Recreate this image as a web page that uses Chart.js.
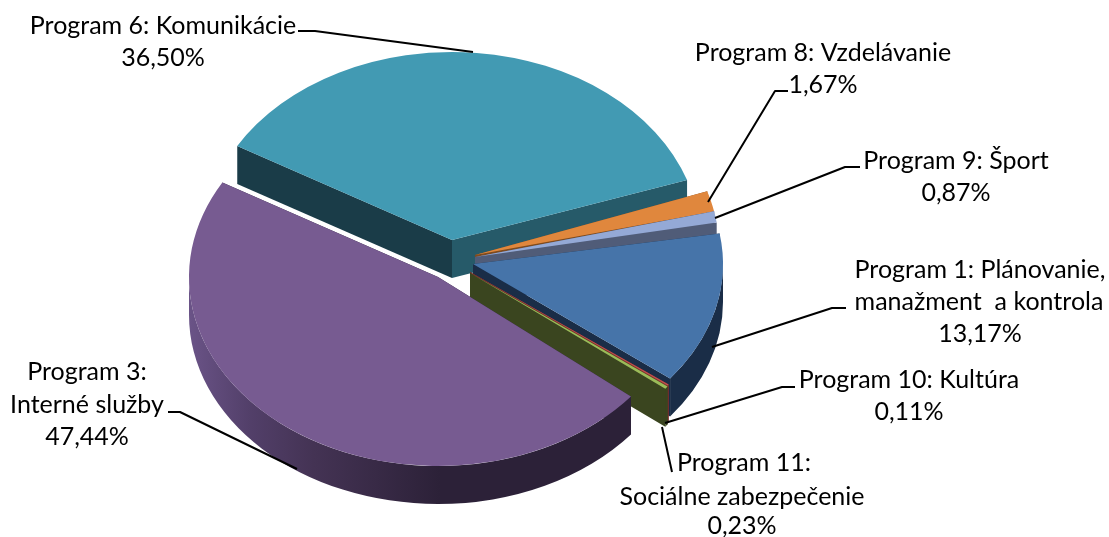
<!DOCTYPE html>
<html>
<head>
<meta charset="utf-8">
<style>html,body{margin:0;padding:0;background:#fff}canvas{display:block}</style>
<script src="https://cdn.jsdelivr.net/npm/chart.js@4/dist/chart.umd.min.js"></script>
</head>
<body>
<canvas id="c" width="1109" height="537"></canvas>
<script>
const categories = ["Program 6: Komunikácie","Program 8: Vzdelávanie","Program 9: Šport","Program 1: Plánovanie, manažment a kontrola","Program 10: Kultúra","Program 11: Sociálne zabezpečenie","Program 3: Interné služby"];
const shares = [36.50,1.67,0.87,13.17,0.11,0.23,47.44];
const topColors = ["#429AB3","#E0873D","#94A9D6","#4674A9","#C0504D","#9BBB59","#775B91"];
const wallColors = ["#265A69","#7F4B1E","#505C78","#1A2D47","#7A2E2C","#3A451F","#2C2138"];
const startWallColors = ["#1A3C48","#7F4B1E","#505C78","#1A2D47","#7A2E2C","#3A451F","#2C2138"];
const labelLines = [
  ["Program 6: Komunikácie","36,50%"],
  ["Program 8: Vzdelávanie","1,67%"],
  ["Program 9: Šport","0,87%"],
  ["Program 1: Plánovanie,","manažment  a kontrola","13,17%"],
  ["Program 10: Kultúra","0,11%"],
  ["Program 11:","Sociálne zabezpečenie","0,23%"],
  ["Program 3:","Interné služby","47,44%"]
];
/* layout of the tilted pie, per slice: centre x, centre y, radius x, radius y */
const sliceFrames = [[452,240,248,188],[475,255,245,200],[475,257,245,210],[473,264,250,186],[470,272,252,183],[470,273,252,183],[438,277,249,189]];
const depth = 38;
const labelPlaces = [
  [[163,26],[163,58]],
  [[823,53],[823,85]],
  [[956,161],[956,193]],
  [[980,270],[979,302],[980,334]],
  [[909,380],[909,412]],
  [[744,463],[742,497],[742,526]],
  [[87,372],[87,405],[87,437]]
];
const leaders = [
  [[298,31],[315,31],[473,52]],
  [[788,91],[775,91],[708,202]],
  [[860,167],[845,167],[715,218]],
  [[846,308],[832,308],[712,347]],
  [[795,387],[782,387],[665,423]],
  [[662,427],[672,472]],
  [[168,412],[180,412],[297,469]]
];

const tiltedPie = {
  id:'tiltedPie',
  beforeDatasetDraw(chart,args){
    const ctx = chart.ctx;
    const arcs = chart.getDatasetMeta(args.index).data;
    arcs.forEach((el,i)=>{
      const [cx,cy,rx,ry] = sliceFrames[i];
      const s = el.startAngle, e = el.endAngle;
      const px = a=>cx+rx*Math.cos(a), py = a=>cy+ry*Math.sin(a);
      ctx.save();
      const wall = (a,col)=>{
        ctx.fillStyle = col;
        ctx.beginPath();
        ctx.moveTo(cx,cy);ctx.lineTo(px(a),py(a));
        ctx.lineTo(px(a),py(a)+depth);ctx.lineTo(cx,cy+depth);
        ctx.closePath();ctx.fill();
      };
      wall(s,startWallColors[i]);
      wall(e,wallColors[i]);
      /* only the front half of the rim faces the viewer */
      const fs = Math.max(s,0), fe = Math.min(e,Math.PI);
      if(fe>fs){
        let outer = wallColors[i];
        if(i===6){
          outer = ctx.createLinearGradient(187,0,440,0);
          outer.addColorStop(0,"#6B5488");
          outer.addColorStop(0.25,"#523F69");
          outer.addColorStop(0.5,"#443354");
          outer.addColorStop(1,"#2C2138");
        }
        ctx.fillStyle = outer;
        ctx.beginPath();
        ctx.ellipse(cx,cy,rx,ry,0,fs,fe);
        ctx.ellipse(cx,cy+depth,rx,ry,0,fe,fs,true);
        ctx.closePath();ctx.fill();
      }
      ctx.restore();

      ctx.save();
      ctx.translate(cx,cy);
      ctx.scale(rx/el.outerRadius,ry/el.outerRadius);
      ctx.translate(-el.x,-el.y);
      el.draw(ctx);
      ctx.restore();
    });
    return false;
  },
  afterDraw(chart){
    const ctx = chart.ctx;
    ctx.save();
    ctx.strokeStyle="#000";ctx.lineWidth=2;ctx.lineJoin='round';
    leaders.forEach(l=>{
      ctx.beginPath();
      l.forEach((p,i)=>i?ctx.lineTo(p[0],p[1]):ctx.moveTo(p[0],p[1]));
      ctx.stroke();
    });
    ctx.fillStyle="#000";
    ctx.font='25px Lato';
    ctx.textAlign='center';ctx.textBaseline='middle';
    labelLines.forEach((lines,i)=>lines.forEach((t,j)=>{
      const p = labelPlaces[i][j];
      ctx.fillText(t,p[0],p[1]);
    }));
    ctx.restore();
  }
};

new Chart(document.getElementById('c'),{
  type:'pie',
  data:{labels:categories,datasets:[{data:shares,backgroundColor:topColors,borderWidth:0,hoverOffset:0}]},
  options:{
    responsive:false,animation:false,rotation:-60,
    plugins:{legend:{display:false},tooltip:{enabled:false},title:{display:false}}
  },
  plugins:[tiltedPie]
});
</script>
</body>
</html>
